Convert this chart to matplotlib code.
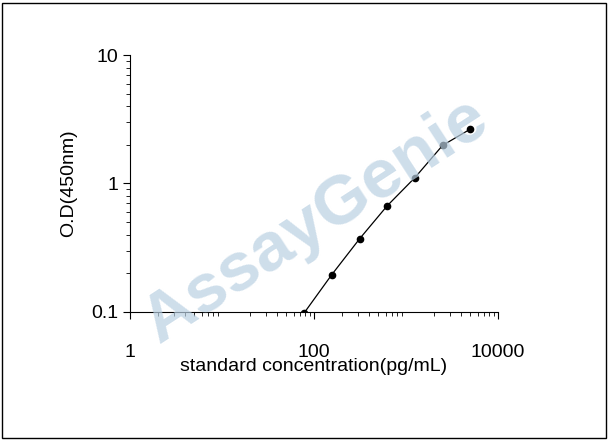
import matplotlib
matplotlib.use("Agg")
import matplotlib.pyplot as plt
from matplotlib.patches import Rectangle

plt.rcParams['font.family'] = ['Liberation Sans', 'DejaVu Sans']

conc = [78.125, 156.25, 312.5, 625, 1250, 2500, 5000]
od = [0.098, 0.195, 0.37, 0.67, 1.11, 1.98, 2.65]

fig = plt.figure(figsize=(6.08, 4.41), dpi=100)
fig.patches.append(Rectangle((0.004, 0.006), 0.992, 0.988, transform=fig.transFigure,
                             fill=False, edgecolor='black', linewidth=1))
fig.text(0.52, 0.50, 'AssayGenie', fontsize=50, fontweight='bold', color='#b9d0e2',
         alpha=0.7, rotation=33, ha='center', va='center', zorder=0)
ax = fig.add_axes([0.214, 0.293, 0.605, 0.582])
ax.patch.set_alpha(0)
ax.plot(conc, od, color='black', linewidth=0.9, marker='o', markersize=4.5, zorder=3)
ax.set_xscale('log'); ax.set_yscale('log')
ax.set_xlim(1, 10000); ax.set_ylim(0.1, 10)
ax.set_xticks([1, 100, 10000]); ax.set_xticklabels(['1', '100', '10000'])
ax.set_yticks([0.1, 1, 10]); ax.set_yticklabels(['0.1', '1', '10'])
ax.xaxis.set_minor_locator(matplotlib.ticker.LogLocator(base=10, subs=range(2, 10)))
ax.xaxis.set_minor_formatter(matplotlib.ticker.NullFormatter())
ax.yaxis.set_minor_formatter(matplotlib.ticker.NullFormatter())
for s in ['top', 'right']:
    ax.spines[s].set_visible(False)
ax.tick_params(labelsize=14, direction='out', length=5)
ax.tick_params(axis='x', pad=18)
ax.tick_params(which='minor', length=3)
ax.set_xlabel('standard concentration(pg/mL)', fontsize=14, labelpad=-2)
ax.set_ylabel('O.D(450nm)', fontsize=14, labelpad=10)
fig.savefig('out.png', dpi=100)
